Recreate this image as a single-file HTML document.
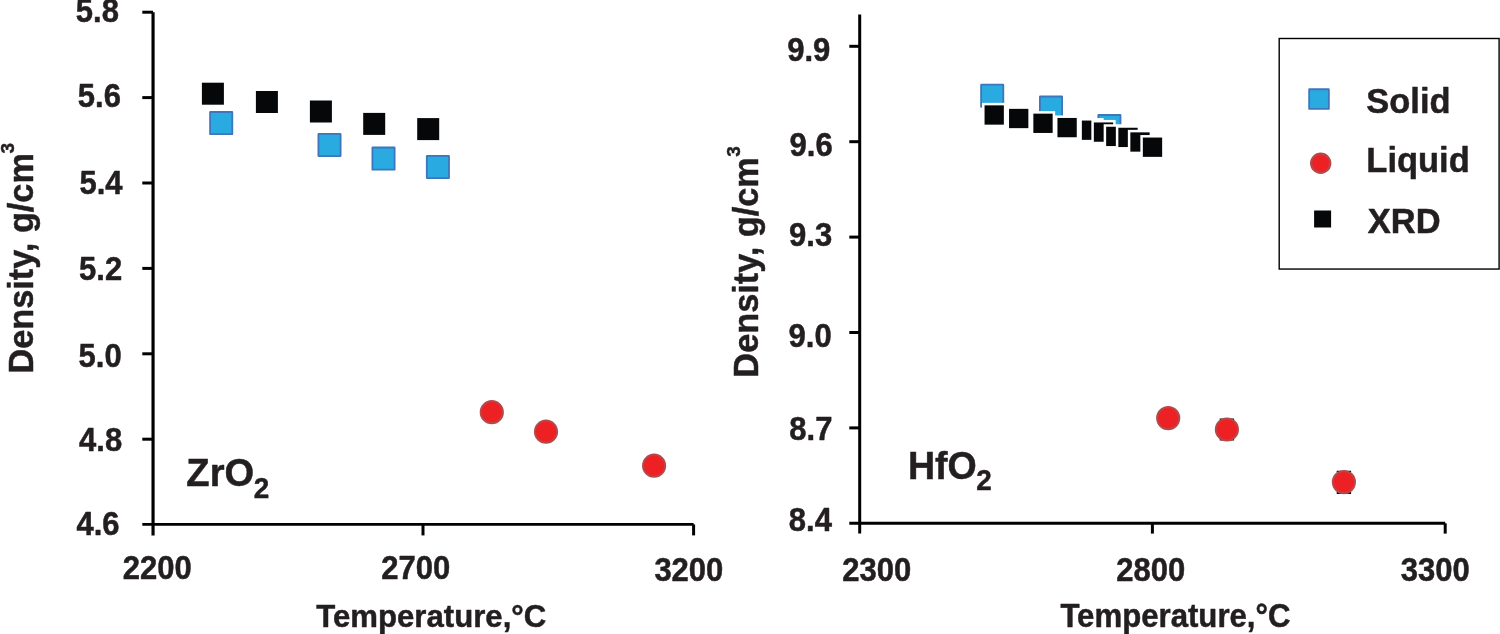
<!DOCTYPE html>
<html lang="en"><head><meta charset="utf-8"><title>Density vs temperature: ZrO2 and HfO2</title>
<style>html,body{margin:0;padding:0;background:#fff}body{width:1500px;height:634px;overflow:hidden}svg{display:block}text{font-family:'Liberation Sans', Arial, Helvetica, sans-serif;font-weight:bold;fill:#231f20;stroke:#231f20;stroke-width:0.5px;stroke-linejoin:round}</style></head><body>
<svg width="1500" height="634" viewBox="0 0 1500 634">
<rect width="1500" height="634" fill="#fff"/>
<g id="left-axes">
<line x1="153.05" y1="12.20" x2="153.05" y2="535.40" stroke="#000" stroke-width="3.15"/>
<line x1="142.30" y1="524.40" x2="693.60" y2="524.40" stroke="#000" stroke-width="2.9"/>
<line x1="142.30" y1="12.20" x2="153.05" y2="12.20" stroke="#000" stroke-width="3"/>
<line x1="142.30" y1="97.60" x2="153.05" y2="97.60" stroke="#000" stroke-width="3"/>
<line x1="142.30" y1="183.00" x2="153.05" y2="183.00" stroke="#000" stroke-width="3"/>
<line x1="142.30" y1="268.40" x2="153.05" y2="268.40" stroke="#000" stroke-width="3"/>
<line x1="142.30" y1="353.80" x2="153.05" y2="353.80" stroke="#000" stroke-width="3"/>
<line x1="142.30" y1="439.20" x2="153.05" y2="439.20" stroke="#000" stroke-width="3"/>
<line x1="423.00" y1="524.40" x2="423.00" y2="535.40" stroke="#000" stroke-width="3"/>
<line x1="693.60" y1="524.40" x2="693.60" y2="535.40" stroke="#000" stroke-width="3"/>
</g>
<g id="right-axes">
<line x1="859.70" y1="14.40" x2="859.70" y2="533.60" stroke="#000" stroke-width="3"/>
<line x1="849.30" y1="523.30" x2="1445.20" y2="523.30" stroke="#000" stroke-width="3"/>
<line x1="849.30" y1="46.30" x2="859.70" y2="46.30" stroke="#000" stroke-width="3"/>
<line x1="849.30" y1="141.70" x2="859.70" y2="141.70" stroke="#000" stroke-width="3"/>
<line x1="849.30" y1="237.10" x2="859.70" y2="237.10" stroke="#000" stroke-width="3"/>
<line x1="849.30" y1="332.50" x2="859.70" y2="332.50" stroke="#000" stroke-width="3"/>
<line x1="849.30" y1="427.90" x2="859.70" y2="427.90" stroke="#000" stroke-width="3"/>
<line x1="1152.40" y1="523.30" x2="1152.40" y2="533.60" stroke="#000" stroke-width="3"/>
<line x1="1445.20" y1="523.30" x2="1445.20" y2="533.60" stroke="#000" stroke-width="3"/>
</g>
<g id="left-data">
<rect x="210.10" y="112.00" width="22.20" height="22.20" rx="0.3" fill="#29abe2" stroke="#3f75ba" stroke-width="1.8"/>
<rect x="318.40" y="133.90" width="22.20" height="22.20" rx="0.3" fill="#29abe2" stroke="#3f75ba" stroke-width="1.8"/>
<rect x="372.40" y="147.50" width="22.20" height="22.20" rx="0.3" fill="#29abe2" stroke="#3f75ba" stroke-width="1.8"/>
<rect x="426.80" y="155.90" width="22.20" height="22.20" rx="0.3" fill="#29abe2" stroke="#3f75ba" stroke-width="1.8"/>
<rect x="201.90" y="82.70" width="22.00" height="22.00" fill="#050708"/>
<rect x="255.90" y="91.00" width="22.00" height="22.00" fill="#050708"/>
<rect x="309.90" y="100.50" width="22.00" height="22.00" fill="#050708"/>
<rect x="363.20" y="112.90" width="22.00" height="22.00" fill="#050708"/>
<rect x="417.20" y="118.10" width="22.00" height="22.00" fill="#050708"/>
<circle cx="491.80" cy="412.20" r="11.10" fill="#ed2024" stroke="#b7484a" stroke-width="2.0"/>
<circle cx="546.00" cy="431.70" r="11.10" fill="#ed2024" stroke="#b7484a" stroke-width="2.0"/>
<circle cx="654.10" cy="465.70" r="11.10" fill="#ed2024" stroke="#b7484a" stroke-width="2.0"/>
</g>
<g id="right-data">
<rect x="981.10" y="84.60" width="22.20" height="22.20" rx="0.3" fill="#29abe2" stroke="#3f75ba" stroke-width="1.8"/>
<rect x="1039.90" y="96.50" width="22.20" height="22.20" rx="0.3" fill="#29abe2" stroke="#3f75ba" stroke-width="1.8"/>
<rect x="1098.30" y="115.00" width="22.20" height="22.20" rx="0.3" fill="#29abe2" stroke="#3f75ba" stroke-width="1.8"/>
<rect x="984.55" y="105.35" width="19.30" height="19.30" fill="#050708" stroke="#fff" stroke-width="5" paint-order="stroke"/>
<rect x="1009.05" y="108.85" width="19.30" height="19.30" fill="#050708" stroke="#fff" stroke-width="5" paint-order="stroke"/>
<rect x="1033.35" y="113.65" width="19.30" height="19.30" fill="#050708" stroke="#fff" stroke-width="5" paint-order="stroke"/>
<rect x="1057.45" y="117.95" width="19.30" height="19.30" fill="#050708" stroke="#fff" stroke-width="5" paint-order="stroke"/>
<rect x="1081.85" y="120.55" width="19.30" height="19.30" fill="#050708" stroke="#fff" stroke-width="5" paint-order="stroke"/>
<rect x="1093.85" y="122.45" width="19.30" height="19.30" fill="#050708" stroke="#fff" stroke-width="5" paint-order="stroke"/>
<rect x="1106.15" y="126.75" width="19.30" height="19.30" fill="#050708" stroke="#fff" stroke-width="5" paint-order="stroke"/>
<rect x="1118.35" y="127.75" width="19.30" height="19.30" fill="#050708" stroke="#fff" stroke-width="5" paint-order="stroke"/>
<rect x="1130.35" y="132.35" width="19.30" height="19.30" fill="#050708" stroke="#fff" stroke-width="5" paint-order="stroke"/>
<rect x="1142.85" y="137.55" width="19.30" height="19.30" fill="#050708" stroke="#fff" stroke-width="5" paint-order="stroke"/>
<path d="M1219.7 419.5h14.4M1219.7 439.6h14.4M1226.9 419.5v20.1" stroke="#111" stroke-width="1.8" fill="none"/>
<path d="M1336.7 471.6h14.4M1336.7 493.0h14.4M1343.9 471.6v21.4" stroke="#111" stroke-width="1.8" fill="none"/>
<circle cx="1168.20" cy="418.10" r="11.10" fill="#ed2024" stroke="#b7484a" stroke-width="2.0"/>
<circle cx="1226.90" cy="429.50" r="11.10" fill="#ed2024" stroke="#b7484a" stroke-width="2.0"/>
<circle cx="1343.90" cy="482.10" r="11.10" fill="#ed2024" stroke="#b7484a" stroke-width="2.0"/>
</g>
<g id="legend">
<rect x="1279.2" y="38.5" width="219.9" height="230.55" fill="#fff" stroke="#000" stroke-width="1.4"/>
<rect x="1309.15" y="89.25" width="19.70" height="19.70" rx="0.3" fill="#29abe2" stroke="#3f75ba" stroke-width="1.8"/>
<circle cx="1320.70" cy="163.30" r="9.55" fill="#ed2024" stroke="#b7484a" stroke-width="2.3"/>
<rect x="1314.10" y="210.50" width="17.00" height="17.00" fill="#050708"/>
</g>
<g id="labels">
<text transform="translate(75.87 21.90) scale(0.96 1)" font-size="32.3">5.8</text>
<text transform="translate(77.77 106.90) scale(0.96 1)" font-size="32.3">5.6</text>
<text transform="translate(79.47 193.60) scale(0.96 1)" font-size="32.3">5.4</text>
<text transform="translate(79.07 279.80) scale(0.96 1)" font-size="32.3">5.2</text>
<text transform="translate(78.57 366.70) scale(0.96 1)" font-size="32.3">5.0</text>
<text transform="translate(79.03 450.90) scale(0.96 1)" font-size="32.3">4.8</text>
<text transform="translate(76.43 534.70) scale(0.96 1)" font-size="32.3">4.6</text>
<text transform="translate(787.17 60.80) scale(0.96 1)" font-size="32.3">9.9</text>
<text transform="translate(789.57 156.40) scale(0.96 1)" font-size="32.3">9.6</text>
<text transform="translate(789.07 246.40) scale(0.96 1)" font-size="32.3">9.3</text>
<text transform="translate(788.57 347.20) scale(0.96 1)" font-size="32.3">9.0</text>
<text transform="translate(789.37 440.40) scale(0.96 1)" font-size="32.3">8.7</text>
<text transform="translate(788.87 530.50) scale(0.96 1)" font-size="32.3">8.4</text>
<text transform="translate(122.87 578.80) scale(0.96 1)" font-size="32.3">2200</text>
<text transform="translate(381.17 579.30) scale(0.96 1)" font-size="32.3">2700</text>
<text transform="translate(654.38 580.50) scale(0.96 1)" font-size="32.3">3200</text>
<text transform="translate(842.17 581.20) scale(0.96 1)" font-size="32.3">2300</text>
<text transform="translate(1116.17 581.20) scale(0.96 1)" font-size="32.3">2800</text>
<text transform="translate(1400.78 580.90) scale(0.96 1)" font-size="32.3">3300</text>
<text transform="translate(316.19 627.40) scale(0.974 1)" font-size="32.0">Temperature,°C</text>
<text transform="translate(1060.39 626.70) scale(0.962 1)" font-size="32.4">Temperature,°C</text>
<text transform="translate(1366.34 113.30) scale(0.985 1)" font-size="35">Solid</text>
<text transform="translate(1366.36 172.10) scale(0.985 1)" font-size="35">Liquid</text>
<text transform="translate(1367.83 232.60) scale(0.985 1)" font-size="35">XRD</text>
<text transform="translate(186.35 486.40) scale(0.99 1)" font-size="38.5">ZrO</text>
<text transform="translate(253.86 497.60) scale(0.93 1)" font-size="30">2</text>
<text transform="translate(907.96 479.10) scale(0.975 1)" font-size="38.5">HfO</text>
<text transform="translate(976.26 490.20) scale(0.93 1)" font-size="30">2</text>
<text transform="translate(32.60 373.53) rotate(-90) scale(0.953 1)" font-size="36">Density, g/cm</text>
<text transform="translate(13.70 153.58) rotate(-90) scale(1.0 1)" font-size="19">3</text>
<text transform="translate(758.00 377.63) rotate(-90) scale(0.953 1)" font-size="36">Density, g/cm</text>
<text transform="translate(739.70 156.78) rotate(-90) scale(1.0 1)" font-size="19">3</text>
</g>
</svg></body></html>
